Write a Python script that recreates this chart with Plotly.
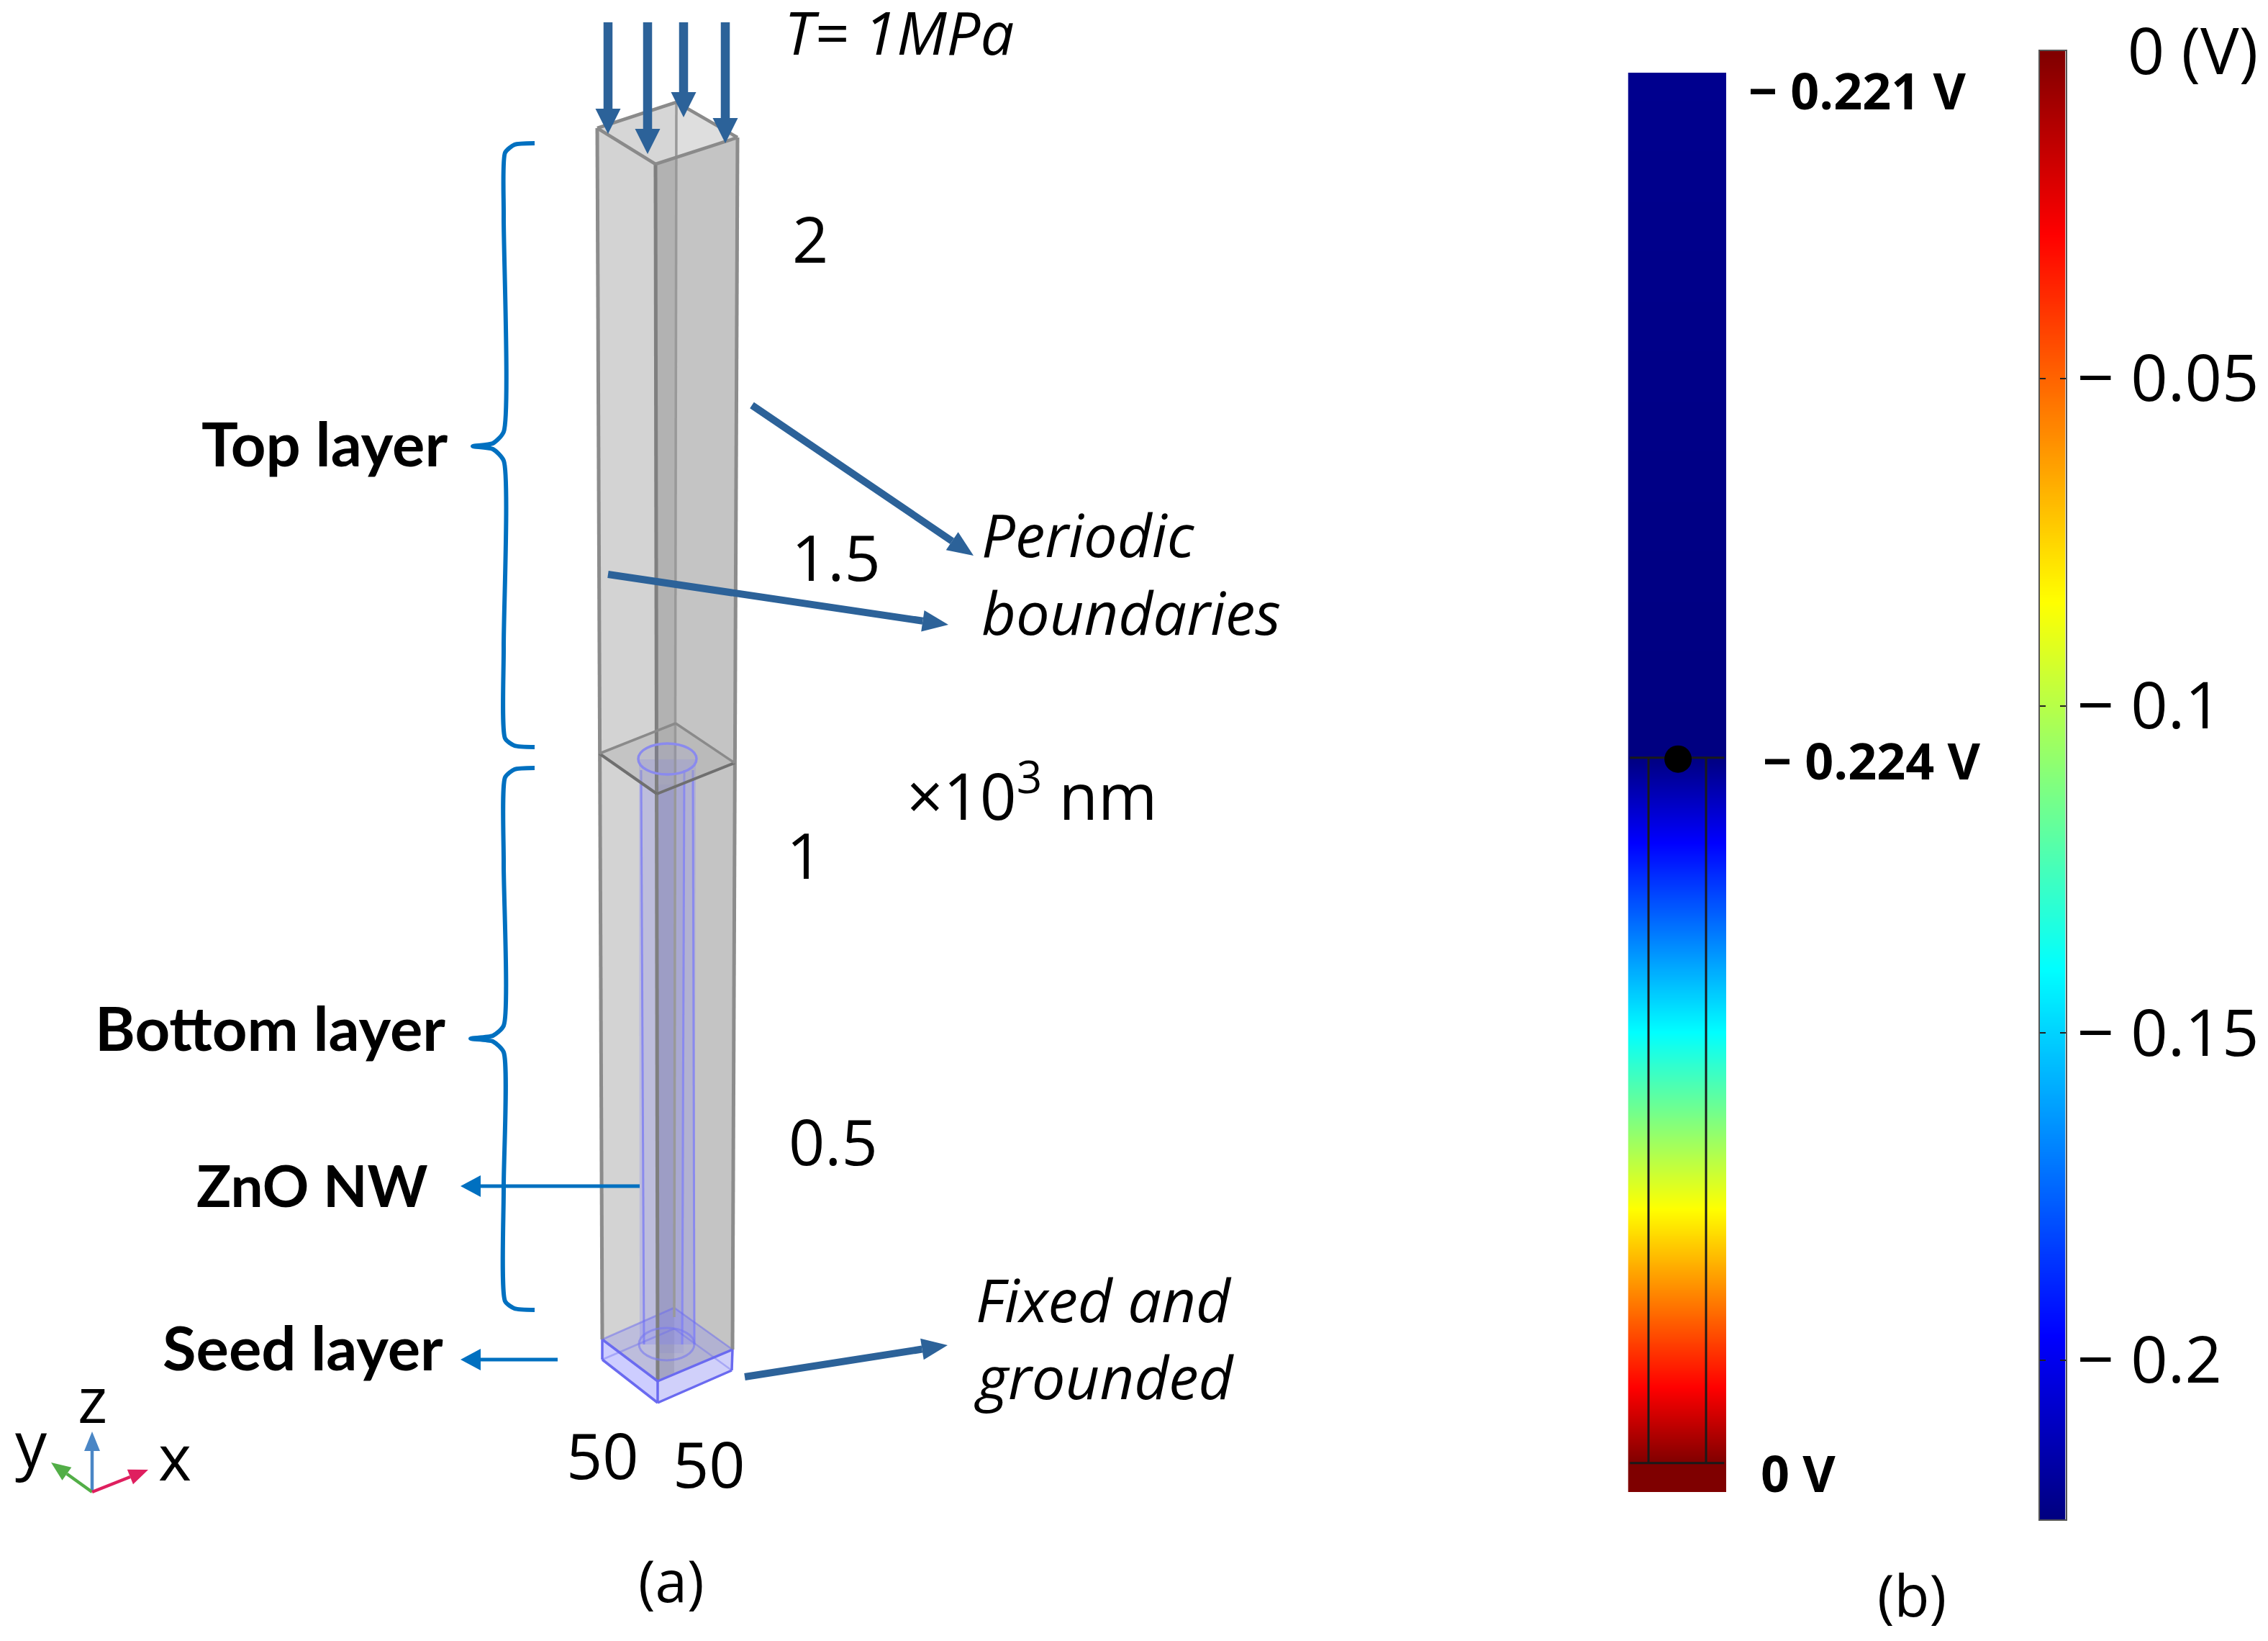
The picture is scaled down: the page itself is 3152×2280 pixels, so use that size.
import math
import plotly.graph_objects as go

W = 3152
H = 2280

# colour bar, right hand side
SCALE_MIN = -0.2243
SCALE_VALUES = [SCALE_MIN, 0]
TICK_VALUES = [0, -0.05, -0.1, -0.15, -0.2]
TICK_LABELS = ["\u00a0\u00a0\u00a00 (V)", "\u2212 0.05", "\u2212 0.1", "\u2212 0.15", "\u2212 0.2"]
JET = [[0, "#00007f"], [0.125, "#0000ff"], [0.375, "#00ffff"], [0.625, "#ffff00"], [0.875, "#ff0000"], [1, "#7f0000"]]

# potential along the nanowire column, nm above the seed layer / volts
COLUMN_HEIGHT = [-41, 0, 107, 360, 610, 878, 1000, 1971]
COLUMN_VOLTS = [0, 0, -0.028, -0.084, -0.14, -0.196, -0.224, -0.221]
NW_EDGES = [0.209, 0.795]
NW_TOP = 1000
NW_BOTTOM = 0
PROBE_X = 0.51

# prism corners in picture pixels
TOP_L = [830, 178]
TOP_F = [911, 228]
TOP_R = [1025, 191]
TOP_B = [940, 142]
MID_L = [833, 1047]
MID_F = [913, 1103]
MID_R = [1021, 1060]
MID_B = [939, 1005]
SEED_L = [837, 1861]
SEED_F = [914, 1919]
SEED_R = [1018, 1875]
SEED_B = [937, 1817]
BASE_L = [837, 1889]
BASE_F = [914, 1949]
BASE_R = [1017, 1904]
BASE_B = [937, 1846]

LOAD_ARROW_X = [845, 900, 950, 1008]
LOAD_ARROW_TIP = [186, 214, 163, 199]
LOAD_ARROW_TOP = 31

POINTER_ARROWS = [
    [1045, 563, 1353, 772],
    [845, 798, 1318, 868],
    [1035, 1913, 1317, 1869],
]
BLUE_ARROWS = [
    [889, 1648, 640, 1648],
    [775, 1889, 640, 1889],
]
TRIAD_ORIGIN = [128, 2073]
TRIAD_TIPS = [[128, 1989], [71, 2032], [206, 2042]]
TRIAD_COLORS = ["#4a86c5", "#52ae47", "#df1f5f"]

BRACE_TOP_X = [743, 715, 702, 700, 700, 685, 657, 685, 700, 700, 702, 715, 743]
BRACE_TOP_Y = [199, 201, 212, 300, 600, 616, 620, 624, 640, 900, 1026, 1036, 1038]
BRACE_LOW_X = [743, 715, 702, 700, 700, 685, 654, 685, 700, 700, 702, 715, 743]
BRACE_LOW_Y = [1067, 1069, 1080, 1200, 1425, 1439, 1443, 1447, 1462, 1650, 1808, 1818, 1820]

BOLD_LABELS = ["Top layer", "Bottom layer", "ZnO NW", "Seed layer"]
BOLD_X = [624, 621, 597, 618]
BOLD_Y = [620, 1432, 1651, 1876]
BOLD_SIZE = [85, 85, 80, 85]

ITALIC_LABELS = ["T= 1MPa", "Periodic", "boundaries", "Fixed and", "grounded"]
ITALIC_X = [1088, 1362, 1362, 1354, 1352]
ITALIC_Y = [48, 746, 854, 1809, 1916]

PLAIN_LABELS = ["2", "1.5", "1", "0.5", "50", "50", "z", "y", "x"]
PLAIN_X = [1126, 1162, 1118, 1158, 837, 985, 128, 43, 243]
PLAIN_Y = [336, 778, 1192, 1590, 2026, 2038, 1948, 2010, 2028]

VOLT_LABELS = ["\u2212 0.221 V", "\u2212 0.224 V", "0 V"]
VOLT_X = [2428, 2448, 2445]
VOLT_Y = [130, 1061, 2051]

PANEL_LABELS = ["(a)", "(b)"]
PANEL_X = [933, 2657]
PANEL_Y = [2199, 2219]

DARK_ARROW = "#2c6299"
BRACE_BLUE = "#0070c0"
EDGE = "#8c8c8c"
NW_BLUE = "#8a8aee"
SEED_BLUE = "#6a6af0"

fig = go.Figure()


def poly(points, fill, line=None, width=0):
    xs = [p[0] for p in points] + [points[0][0]]
    ys = [p[1] for p in points] + [points[0][1]]
    fig.add_trace(go.Scatter(x=xs, y=ys, mode="lines", fill="toself", fillcolor=fill,
                             line=dict(color=line or fill, width=width), hoverinfo="skip"))


def seg(a, b, color, width):
    fig.add_trace(go.Scatter(x=[a[0], b[0]], y=[a[1], b[1]], mode="lines",
                             line=dict(color=color, width=width), hoverinfo="skip"))


def arrow(x0, y0, x1, y1, color, width, head_len, head_half):
    d = math.hypot(x1 - x0, y1 - y0)
    ux, uy = (x1 - x0) / d, (y1 - y0) / d
    bx, by = x1 - ux * head_len, y1 - uy * head_len
    seg([x0, y0], [bx, by], color, width)
    poly([[x1, y1], [bx - uy * head_half, by + ux * head_half], [bx + uy * head_half, by - ux * head_half]], color)


# prism body
poly([TOP_L, TOP_F, SEED_F, SEED_L], "#d3d3d3")
poly([TOP_F, TOP_R, SEED_R, SEED_F], "#c4c4c4")
poly([TOP_F, [TOP_B[0], TOP_F[1] - 10], [SEED_B[0], SEED_F[1] - 12], SEED_F], "#b2b2b2")
poly([TOP_L, TOP_F, [TOP_B[0], 218], TOP_B], "#d6d6d6")
poly([TOP_B, [TOP_B[0], 218], TOP_F, TOP_R], "#dedede")

# nanowire
poly([[888, 1055], [967, 1055], [965, 1868], [889, 1868]], "rgba(120,120,250,0.24)")
poly([[912, 1090], [952, 1090], [950, 1880], [912, 1880]], "rgba(100,100,220,0.10)")
for x0, x1 in [[891, 895], [951, 948], [963, 965]]:
    seg([x0, 1070], [x1, 1868], NW_BLUE, 3)

poly([MID_L, MID_F, MID_R, MID_B], "rgba(170,170,170,0.35)")

# seed layer
poly([SEED_L, SEED_F, SEED_R, SEED_B], "rgba(120,120,250,0.24)")
poly([SEED_L, SEED_F, BASE_F, BASE_L], "rgba(130,130,255,0.40)")
poly([SEED_F, SEED_R, BASE_R, BASE_F], "rgba(110,110,240,0.32)")
seg(BASE_L, BASE_B, "rgba(106,106,240,0.4)", 2.5)
seg(BASE_R, BASE_B, "rgba(106,106,240,0.4)", 2.5)
seg(SEED_L, SEED_B, "rgba(106,106,240,0.5)", 2.5)
seg(SEED_R, SEED_B, "rgba(106,106,240,0.5)", 2.5)

# prism edges
seg(TOP_L, SEED_L, EDGE, 5)
seg(TOP_F, SEED_F, "#7f7f7f", 5)
seg(TOP_R, SEED_R, EDGE, 5)
seg(TOP_B, [SEED_B[0], 1830], "#999999", 3.5)
for a, b in [[TOP_L, TOP_F], [TOP_F, TOP_R], [TOP_R, TOP_B], [TOP_B, TOP_L]]:
    seg(a, b, "#8a8a8a", 4.5)
for a, b in [[MID_L, MID_F], [MID_F, MID_R]]:
    seg(a, b, "#6f6f6f", 4)
for a, b in [[MID_R, MID_B], [MID_B, MID_L]]:
    seg(a, b, "#8a8a8a", 3.5)
for a, b in [[SEED_L, SEED_F], [SEED_F, SEED_R], [BASE_L, BASE_F], [BASE_F, BASE_R],
             [SEED_L, BASE_L], [SEED_F, BASE_F], [SEED_R, BASE_R]]:
    seg(a, b, SEED_BLUE, 3.5)

# load arrows
for x, tip in zip(LOAD_ARROW_X, LOAD_ARROW_TIP):
    arrow(x, LOAD_ARROW_TOP, x, tip, DARK_ARROW, 12.5, 35, 17.5)

for a in POINTER_ARROWS:
    arrow(a[0], a[1], a[2], a[3], DARK_ARROW, 10, 36, 15)
for a in BLUE_ARROWS:
    arrow(a[0], a[1], a[2], a[3], BRACE_BLUE, 5, 28, 15)

for bx, by in [[BRACE_TOP_X, BRACE_TOP_Y], [BRACE_LOW_X, BRACE_LOW_Y]]:
    fig.add_trace(go.Scatter(x=bx, y=by, mode="lines", line=dict(color=BRACE_BLUE, width=6, shape="spline", smoothing=0.6),
                             hoverinfo="skip"))

for tip, col in zip(TRIAD_TIPS, TRIAD_COLORS):
    arrow(TRIAD_ORIGIN[0], TRIAD_ORIGIN[1], tip[0], tip[1], col, 4.5, 27, 11)

# colour bar
fig.add_trace(go.Heatmap(x=[0, 1], y=SCALE_VALUES, z=[[v, v] for v in SCALE_VALUES], coloraxis="coloraxis",
                         zsmooth="best", xaxis="x2", yaxis="y2", hoverinfo="skip"))

# column of potential, with the nanowire outline on top
fig.add_trace(go.Heatmap(x=[0, 1], y=COLUMN_HEIGHT, z=[[v, v] for v in COLUMN_VOLTS], coloraxis="coloraxis",
                         zsmooth="best", xaxis="x3", yaxis="y3", hoverinfo="skip"))
for ex in NW_EDGES:
    fig.add_trace(go.Scatter(x=[ex, ex], y=[NW_BOTTOM, NW_TOP], mode="lines", xaxis="x3", yaxis="y3",
                             line=dict(color="#1a1a1a", width=3), hoverinfo="skip"))
for hy in [NW_BOTTOM, NW_TOP]:
    fig.add_trace(go.Scatter(x=[0.02, 0.98], y=[hy, hy], mode="lines", xaxis="x3", yaxis="y3",
                             line=dict(color="#1a1a1a", width=3), hoverinfo="skip"))
fig.add_trace(go.Scatter(x=[PROBE_X], y=[NW_TOP - 2], mode="markers", xaxis="x3", yaxis="y3",
                         marker=dict(color="black", size=38), hoverinfo="skip"))


def add_labels(texts, xs, ys, sizes, family, xanchor="center", weight="normal", italic=False):
    if not isinstance(sizes, list):
        sizes = [sizes] * len(texts)
    for t, x, y, size in zip(texts, xs, ys, sizes):
        # the font's line box sits a little low, pull it back up
        fig.add_annotation(x=x, y=y - 5, xref="x", yref="y", text=t, showarrow=False, xanchor=xanchor, yanchor="middle",
                           font=dict(size=size, family=family, color="black", weight=weight,
                                     style="italic" if italic else "normal"))


add_labels(BOLD_LABELS, BOLD_X, BOLD_Y, BOLD_SIZE, "Lato", xanchor="right", weight="bold")
add_labels(ITALIC_LABELS, ITALIC_X, ITALIC_Y, 83, "Open Sans", xanchor="left", italic=True)
add_labels(PLAIN_LABELS, PLAIN_X, PLAIN_Y, 88, "Open Sans")
add_labels(VOLT_LABELS, VOLT_X, VOLT_Y, 70, "Open Sans", xanchor="left", weight="bold")
add_labels(PANEL_LABELS, PANEL_X, PANEL_Y, 80, "Open Sans")
add_labels(["\u00d710<sup>3</sup> nm"], [1258], [1105], 89, "Open Sans", xanchor="left")

# ellipses of the nanowire ends
fig.add_shape(type="circle", x0=887, x1=968, y0=1033, y1=1076, xref="x", yref="y",
              line=dict(color=NW_BLUE, width=3.5), fillcolor="rgba(120,120,250,0.08)")
fig.add_shape(type="circle", x0=888, x1=965, y0=1845, y1=1890, xref="x", yref="y",
              line=dict(color="rgba(120,120,240,0.6)", width=3))

fig.update_layout(
    width=W, height=H, margin=dict(l=0, r=0, t=0, b=0), paper_bgcolor="white", plot_bgcolor="rgba(0,0,0,0)",
    showlegend=False,
    coloraxis=dict(colorscale=JET, cmin=SCALE_MIN, cmax=0, showscale=False),
    xaxis=dict(range=[0, W], domain=[0, 1], visible=False, fixedrange=True, automargin=False),
    yaxis=dict(range=[H, 0], domain=[0, 1], visible=False, fixedrange=True, automargin=False),
    xaxis2=dict(range=[0, 1], domain=[2834.5 / W, 2870.5 / W], anchor="y2", showticklabels=False, ticks="", automargin=False,
                showgrid=False, zeroline=False, showline=True, mirror=True, linecolor="#555555", linewidth=2),
    yaxis2=dict(range=[SCALE_MIN, 0], domain=[1 - 2111 / H, 1 - 71 / H], anchor="x2", side="right", automargin=False,
                tickvals=TICK_VALUES, ticktext=TICK_LABELS, ticks="inside", ticklen=8, tickwidth=2, tickcolor="#222222",
                ticklabelstandoff=-4, tickfont=dict(size=90, family="Open Sans", color="black"),
                showgrid=False, zeroline=False, showline=True, mirror="ticks", linecolor="#555555", linewidth=2),
    xaxis3=dict(range=[0, 1], domain=[2262.5 / W, 2399 / W], anchor="y3", visible=False, automargin=False),
    yaxis3=dict(range=[COLUMN_HEIGHT[0], COLUMN_HEIGHT[-1]], domain=[1 - 2073 / H, 1 - 101 / H], anchor="x3", visible=False,
                automargin=False),
)

fig.write_html("out.html", config={"displayModeBar": False}, post_script="document.body.style.margin = '0';")
